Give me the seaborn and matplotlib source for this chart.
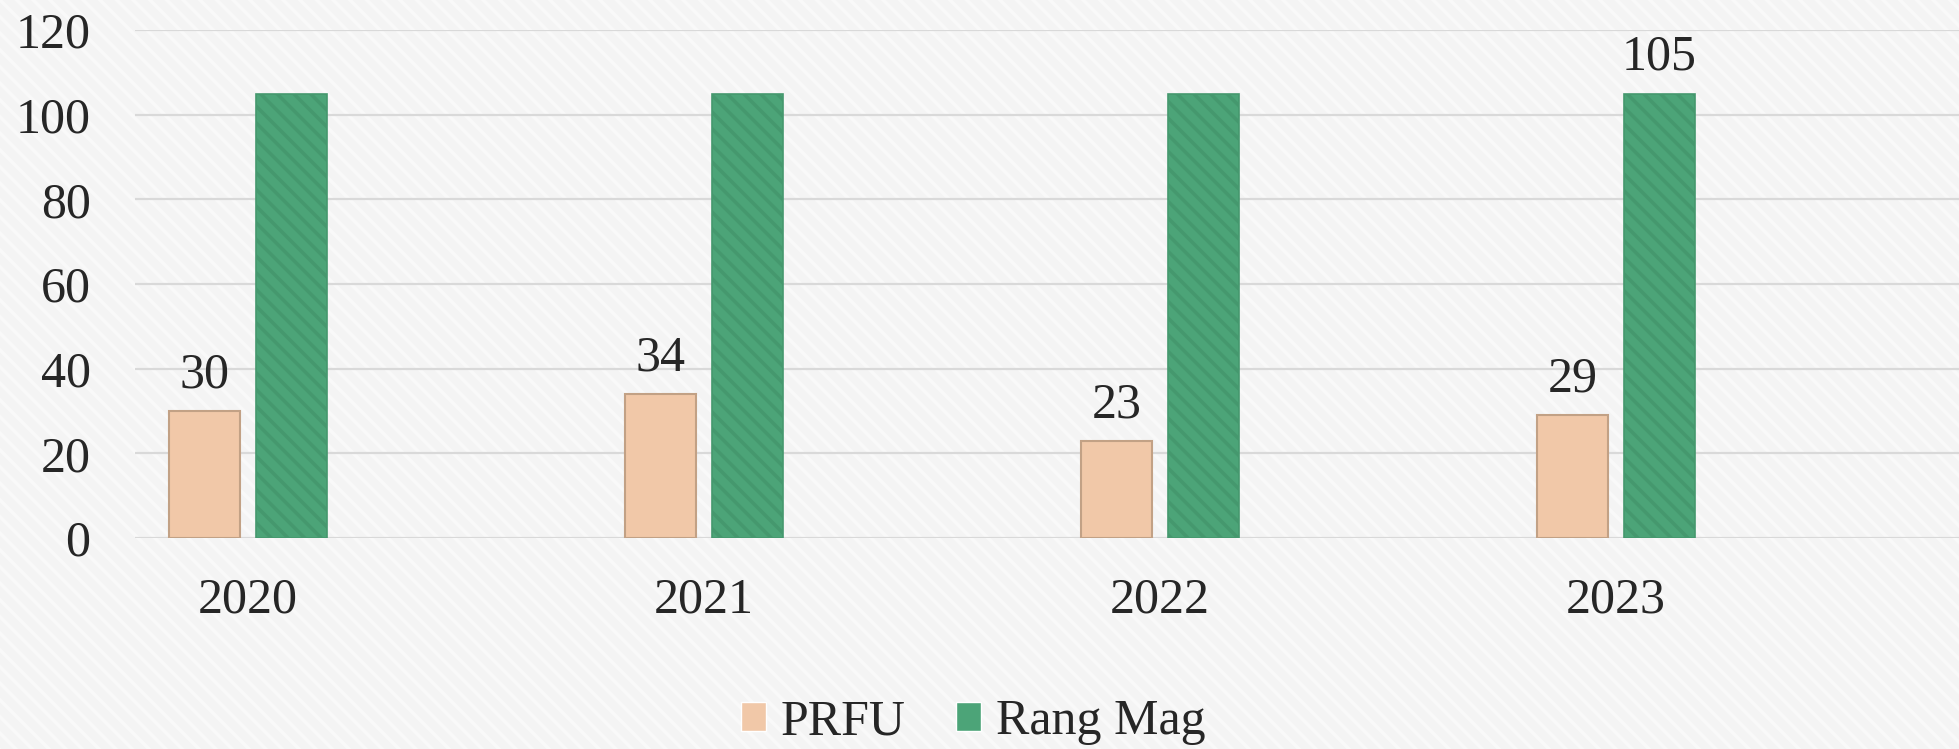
import matplotlib
matplotlib.use('Agg')
import matplotlib.pyplot as plt
from matplotlib.patches import Rectangle
import seaborn as sns
import pandas as pd

# ---- data ----
years = ['2020', '2021', '2022', '2023']
prfu = [30, 34, 23, 29]
rang_mag = [105, 105, 105, 105]
series_names = ['PRFU', 'Rang Mag']
y_ticks = [0, 20, 40, 60, 80, 100, 120]

df = pd.DataFrame({
    'Année': years * 2,
    'Valeur': prfu + rang_mag,
    'Série': [series_names[0]] * len(years) + [series_names[1]] * len(years),
})

sns.set_theme(style='white')
plt.rcParams['font.family'] = ['Liberation Serif', 'DejaVu Serif']
plt.rcParams['hatch.linewidth'] = 2.5

W, H = 1959, 749
fig = plt.figure(figsize=(W / 100, H / 100), dpi=100, facecolor='#F5F5F5')
# subtle diagonal texture on background
fig.patches.append(Rectangle((0, 0), 1, 1, transform=fig.transFigure,
                             facecolor='#F4F4F4', edgecolor='#F9F9F9',
                             hatch='\\\\', linewidth=0, zorder=-10))

ax = fig.add_axes([135 / W, 211 / H, 1824 / W, 508 / H])
ax.set_facecolor('none')

palette = {'PRFU': '#F1C8A8', 'Rang Mag': '#4CA478'}
sns.barplot(data=df, x='Année', y='Valeur', hue='Série', palette=palette,
            saturation=1, width=0.38, gap=0.18, ax=ax, legend=True, zorder=3)

for p in ax.containers[0]:
    p.set_edgecolor('#C2A185')
    p.set_linewidth(1.5)
for p in ax.containers[1]:
    p.set_edgecolor('#45986E')
    p.set_linewidth(1.2)
    p.set_hatch('\\\\')

txt_color = '#262626'
fs = 36
ax.bar_label(ax.containers[0], labels=[str(v) for v in prfu], padding=9,
             fontsize=fs, color=txt_color)
ax.bar_label(ax.containers[1],
             labels=['' if i < len(rang_mag) - 1 else str(v) for i, v in enumerate(rang_mag)],
             padding=9, fontsize=fs, color=txt_color)

ax.set_xlim(-0.248, 3.752)
ax.set_ylim(0, 120)
ax.set_yticks(y_ticks)
ax.set_yticklabels([str(t) for t in y_ticks])
ax.set_xlabel('')
ax.set_ylabel('')
ax.tick_params(axis='both', length=0, labelsize=fs, colors=txt_color)
ax.tick_params(axis='y', pad=32)
ax.tick_params(axis='x', pad=28)
ax.yaxis.grid(True, color='#D9D9D9', linewidth=1.6, zorder=0)
ax.set_axisbelow(True)
for s in ax.spines.values():
    s.set_visible(False)

handles, labels = ax.get_legend_handles_labels()
ax.get_legend().remove()
fig.legend(handles, labels, loc='center', bbox_to_anchor=(973 / W, 1 - 722 / H),
           ncol=2, frameon=False, fontsize=fs, handlelength=0.5, handleheight=0.5,
           handletextpad=0.3, columnspacing=1.0, labelcolor=txt_color)

fig.savefig('out.png', dpi=100, facecolor=fig.get_facecolor())
